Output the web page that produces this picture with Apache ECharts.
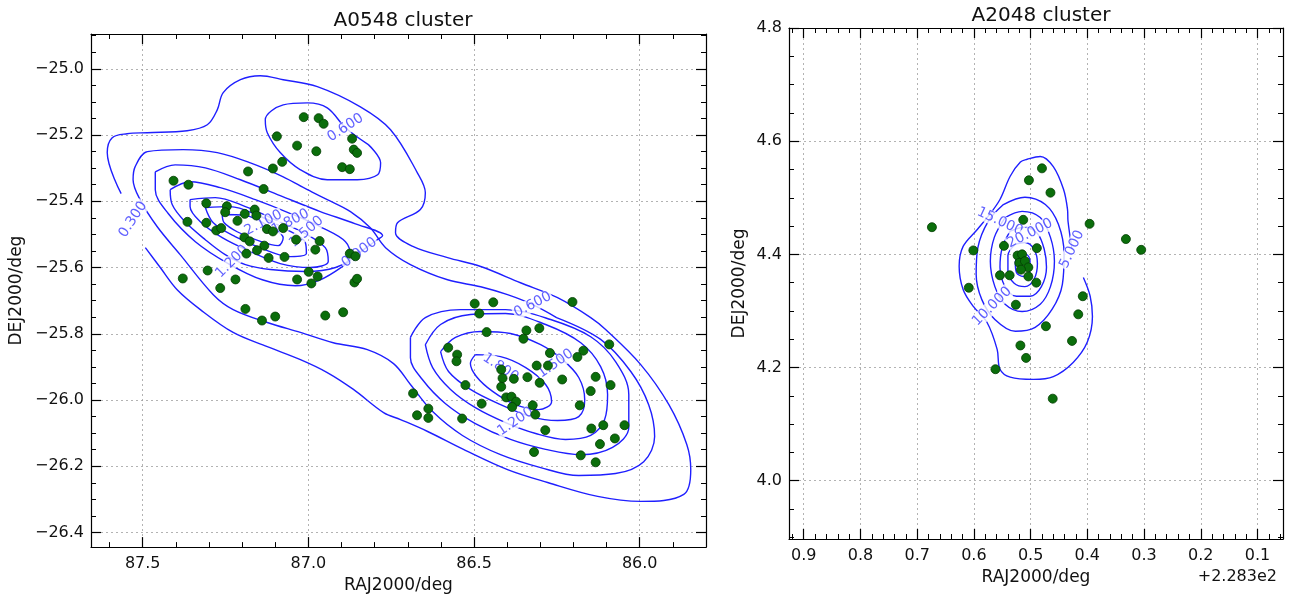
<!DOCTYPE html>
<html><head><meta charset="utf-8">
<script src="https://cdn.jsdelivr.net/npm/echarts@6/dist/echarts.min.js"></script>
<style>html,body{margin:0;background:#fff}#c{width:1293px;height:599px}</style>
</head><body><div id="c"></div>
<script>
// ---------- A0548 galaxies (RA, Dec in deg) ----------
const a0548Ra = [87.014,86.969,86.954,87.095,87.034,86.976,86.868,86.863,86.853,86.898,86.875,87.079,87.107,87.182,87.135,87.407,87.362,87.308,87.246,87.251,87.162,87.157,87.192,87.214,87.365,87.308,87.278,87.263,87.125,87.107,87.076,87.193,87.177,87.037,86.966,86.979,87.133,87.155,87.187,87.120,87.072,86.875,86.858,87.304,87.379,87.220,87.266,86.999,86.972,87.034,86.991,86.861,86.853,87.190,87.140,87.100,86.949,86.895,
86.498,86.442,86.484,86.203,86.462,86.342,86.303,86.351,86.092,86.578,86.551,86.553,86.271,86.170,86.188,86.311,86.277,86.418,86.414,86.380,86.339,86.302,86.234,86.133,86.088,86.148,86.526,86.418,86.403,86.387,86.373,86.385,86.323,86.315,86.477,86.181,86.684,86.638,86.672,86.638,86.536,86.285,86.146,86.110,86.046,86.075,86.120,86.319,86.178,86.133];
const a0548Dec = [-25.146,-25.149,-25.166,-25.204,-25.232,-25.249,-25.211,-25.244,-25.254,-25.297,-25.303,-25.281,-25.301,-25.310,-25.363,-25.338,-25.350,-25.406,-25.415,-25.433,-25.425,-25.443,-25.438,-25.459,-25.462,-25.465,-25.488,-25.481,-25.484,-25.491,-25.481,-25.509,-25.521,-25.516,-25.520,-25.546,-25.534,-25.548,-25.558,-25.571,-25.568,-25.558,-25.566,-25.609,-25.633,-25.636,-25.662,-25.613,-25.627,-25.636,-25.648,-25.645,-25.634,-25.725,-25.760,-25.748,-25.745,-25.735,
-25.709,-25.705,-25.739,-25.704,-25.795,-25.790,-25.783,-25.815,-25.832,-25.842,-25.863,-25.883,-25.858,-25.851,-25.870,-25.896,-25.896,-25.908,-25.934,-25.936,-25.931,-25.948,-25.938,-25.930,-25.955,-25.973,-25.955,-25.960,-25.992,-25.990,-26.005,-26.021,-26.016,-26.044,-26.011,-26.016,-25.980,-26.026,-26.046,-26.054,-26.056,-26.091,-26.086,-26.076,-26.076,-26.116,-26.133,-26.157,-26.167,-26.188];

// A0548 density contours
const a0548Level030 = [[87.492,-25.540],[87.447,-25.600],[87.396,-25.667],[87.326,-25.727],[87.227,-25.796],[87.124,-25.839],[87.024,-25.878],[86.943,-25.917],[86.864,-25.968],[86.773,-26.038],[86.722,-26.059],[86.640,-26.095],[86.532,-26.149],[86.399,-26.210],[86.278,-26.249],[86.127,-26.291],[85.997,-26.306],[85.867,-26.285],[85.846,-26.210],[85.858,-26.134],[85.912,-26.014],[85.997,-25.893],[86.103,-25.787],[86.148,-25.751],[86.248,-25.691],[86.360,-25.646],[86.480,-25.597],[86.580,-25.570],[86.683,-25.537],[86.737,-25.495],[86.731,-25.465],[86.662,-25.425],[86.647,-25.374],[86.671,-25.314],[86.752,-25.184],[86.843,-25.115],[86.973,-25.054],[87.076,-25.033],[87.145,-25.021],[87.205,-25.033],[87.257,-25.072],[87.275,-25.124],[87.305,-25.169],[87.366,-25.187],[87.486,-25.193],[87.547,-25.196],[87.592,-25.208],[87.607,-25.253],[87.565,-25.377]];
const a0548Level060North = [[86.819,-25.229],[86.782,-25.284],[86.791,-25.320],[86.852,-25.335],[86.943,-25.335],[87.024,-25.305],[87.085,-25.253],[87.124,-25.193],[87.130,-25.154],[87.076,-25.109],[87.003,-25.103],[86.943,-25.118],[86.888,-25.178]];
const a0548Level060 = [[86.251,-25.751],[86.118,-25.817],[86.027,-25.914],[85.973,-26.014],[85.955,-26.110],[85.988,-26.186],[86.073,-26.222],[86.184,-26.228],[86.299,-26.204],[86.420,-26.165],[86.535,-26.107],[86.625,-26.035],[86.692,-25.953],[86.743,-25.890],[86.822,-25.848],[86.925,-25.827],[87.024,-25.796],[87.124,-25.766],[87.227,-25.727],[87.287,-25.682],[87.387,-25.561],[87.456,-25.477],[87.508,-25.395],[87.529,-25.335],[87.523,-25.296],[87.486,-25.250],[87.378,-25.244],[87.275,-25.253],[87.175,-25.284],[87.076,-25.326],[87.003,-25.365],[86.943,-25.395],[86.873,-25.431],[86.813,-25.480],[86.767,-25.540],[86.692,-25.591],[86.580,-25.637],[86.480,-25.658],[86.399,-25.682],[86.323,-25.712]];
const a0548Level090Main = [[87.462,-25.311],[87.402,-25.290],[87.311,-25.299],[87.205,-25.335],[87.085,-25.383],[86.964,-25.431],[86.858,-25.468],[86.776,-25.504],[86.792,-25.516],[86.846,-25.555],[86.897,-25.597],[86.964,-25.637],[87.039,-25.655],[87.139,-25.637],[87.242,-25.588],[87.341,-25.522],[87.423,-25.437],[87.462,-25.365]];
const a0548Level120Main = [[87.417,-25.365],[87.357,-25.341],[87.266,-25.359],[87.160,-25.395],[87.054,-25.437],[86.958,-25.480],[86.888,-25.522],[86.873,-25.567],[86.918,-25.600],[87.009,-25.612],[87.115,-25.606],[87.190,-25.591],[87.251,-25.561],[87.311,-25.516],[87.372,-25.462],[87.411,-25.410]];
const a0548Level150Main = [[87.357,-25.395],[87.281,-25.389],[87.190,-25.416],[87.100,-25.456],[87.009,-25.498],[86.949,-25.540],[86.940,-25.582],[86.994,-25.600],[87.085,-25.588],[87.175,-25.552],[87.260,-25.510],[87.326,-25.462],[87.357,-25.416]];
const a0548Level180Main = [[87.311,-25.419],[87.236,-25.416],[87.151,-25.443],[87.070,-25.483],[87.009,-25.525],[87.006,-25.558],[87.054,-25.567],[87.139,-25.543],[87.221,-25.507],[87.287,-25.465]];
const a0548Level210Main = [[87.260,-25.440],[87.190,-25.443],[87.121,-25.474],[87.076,-25.510],[87.091,-25.534],[87.151,-25.519],[87.215,-25.492],[87.254,-25.465]];
const a0548Level090South = [[86.692,-25.811],[86.647,-25.751],[86.541,-25.727],[86.405,-25.727],[86.269,-25.757],[86.148,-25.809],[86.073,-25.884],[86.033,-25.983],[86.033,-26.083],[86.082,-26.143],[86.178,-26.165],[86.284,-26.149],[86.390,-26.119],[86.496,-26.071],[86.586,-26.011],[86.656,-25.938],[86.692,-25.872]];
const a0548Level120South = [[86.647,-25.833],[86.601,-25.772],[86.511,-25.742],[86.405,-25.739],[86.284,-25.772],[86.178,-25.827],[86.118,-25.899],[86.097,-25.983],[86.106,-26.059],[86.148,-26.107],[86.224,-26.119],[86.314,-26.101],[86.405,-26.068],[86.496,-26.023],[86.571,-25.968],[86.625,-25.902]];
const a0548Level150South = [[86.601,-25.854],[86.556,-25.811],[86.480,-25.793],[86.390,-25.799],[86.299,-25.833],[86.233,-25.878],[86.184,-25.932],[86.166,-25.999],[86.184,-26.050],[86.248,-26.062],[86.329,-26.050],[86.420,-26.014],[86.511,-25.968],[86.577,-25.914]];
const a0548Level180South = [[86.496,-25.863],[86.420,-25.869],[86.344,-25.902],[86.284,-25.953],[86.266,-26.005],[86.305,-26.029],[86.375,-26.014],[86.444,-25.974],[86.493,-25.929],[86.511,-25.890]];

const a0548LabelPos = [[87.529,-25.455],[86.888,-25.178],[86.323,-25.712],[86.846,-25.555],[87.230,-25.582],[87.136,-25.465],[87.054,-25.462],[87.006,-25.492],[86.420,-25.902],[86.254,-25.890],[86.375,-26.065]];
const a0548LabelText = ['0.300','0.600','0.600','0.900','1.200','2.100','1.800','1.500','1.800','1.500','1.200'];

// ---------- A2048 galaxies ----------
const a2048Ra = [228.780,228.803,228.765,228.974,228.696,228.632,228.605,228.813,228.901,228.847,228.789,228.823,228.815,228.820,228.810,228.804,228.817,228.804,228.790,228.854,228.837,228.909,228.826,228.708,228.716,228.773,228.727,228.818,228.808,228.862,228.761];
const a2048Dec = [4.552,4.531,4.509,4.448,4.454,4.427,4.408,4.461,4.407,4.415,4.411,4.398,4.400,4.385,4.388,4.377,4.373,4.361,4.350,4.363,4.363,4.341,4.311,4.326,4.294,4.273,4.247,4.239,4.217,4.197,4.145];
const a2048Level05 = [[228.707,4.359],[228.695,4.326],[228.691,4.290],[228.700,4.245],[228.725,4.209],[228.760,4.184],[228.795,4.179],[228.836,4.183],[228.854,4.197],[228.859,4.232],[228.877,4.280],[228.901,4.308],[228.919,4.338],[228.926,4.379],[228.919,4.414],[228.894,4.444],[228.875,4.467],[228.854,4.497],[228.836,4.538],[228.818,4.563],[228.806,4.568],[228.783,4.573],[228.760,4.555],[228.742,4.515],[228.735,4.480],[228.734,4.458],[228.727,4.409]];
const a2048Level10 = [[228.848,4.488],[228.810,4.501],[228.774,4.488],[228.751,4.453],[228.741,4.400],[228.744,4.347],[228.762,4.303],[228.792,4.271],[228.827,4.264],[228.863,4.285],[228.886,4.320],[228.896,4.365],[228.893,4.412],[228.875,4.458]];
const a2048Level15 = [[228.845,4.465],[228.815,4.476],[228.783,4.465],[228.765,4.430],[228.758,4.388],[228.765,4.343],[228.783,4.312],[228.815,4.299],[228.845,4.312],[228.863,4.343],[228.871,4.388],[228.864,4.430]];
const a2048Level20 = [[228.836,4.441],[228.811,4.448],[228.788,4.437],[228.776,4.409],[228.772,4.377],[228.781,4.343],[228.801,4.326],[228.825,4.326],[228.845,4.343],[228.854,4.377],[228.850,4.412]];
const a2048Level25 = [[228.827,4.418],[228.810,4.421],[228.794,4.409],[228.788,4.384],[228.794,4.356],[228.810,4.343],[228.829,4.349],[228.840,4.370],[228.840,4.398]];
const a2048Level30 = [[228.820,4.398],[228.808,4.400],[228.801,4.388],[228.802,4.370],[228.813,4.361],[228.825,4.368],[228.827,4.386]];
const a2048LabelPos = [[228.727,4.409],[228.868,4.308],[228.854,4.458],[228.801,4.437]];
const a2048LabelText = ['5.000','10.000','15.000','20.000'];

// tick labels
const a0548XTicks = [86.0,86.5,87.0,87.5];
const a0548YTicks = [-26.4,-26.2,-26.0,-25.8,-25.6,-25.4,-25.2,-25.0];
const a2048XTicks = [228.4,228.5,228.6,228.7,228.8,228.9,229.0,229.1,229.2];
const a2048YTicks = [4.0,4.2,4.4,4.6,4.8];

// ---------- build ----------
function range(a,b,s){const r=[];for(let i=0;a+i*s<=b+1e-9;i++)r.push(+(a+i*s).toFixed(4));return r;}
const a0548XMinor = range(85.8,87.6,0.1);
const a0548YMinor = range(-26.4,-24.9,0.05);
const a2048XMinor = range(228.36,229.22,0.02);
const a2048YMinor = range(3.9,4.8,0.05);

const FONT = 'DejaVu Sans';
const labelRot0 = [57,33,27,37,45,27,27,41,-34,35,34];
const labelRot1 = [65,45,-25,27];
const blue = '#1f1fff';
const minus = v => (v<0?'\u2212':'') + Math.abs(v).toFixed(1);

function axisSet(grid, isX, min, max, inverse, major, minor, fmt, pos2, nameCfg){
  const base = {gridIndex:grid, type:'value', min, max, inverse, scale:true};
  const mainPos = isX ? 'bottom':'left';
  const main = Object.assign({}, base, {
    position: mainPos,
    axisLine:{show:true,onZero:false,lineStyle:{color:'#000',width:1.2}},
    axisTick:{show:true,inside:true,length:10,customValues:major,lineStyle:{color:'#000',width:1.2}},
    axisLabel:{show:true,customValues:major,formatter:fmt,color:'#111',fontFamily:FONT,fontSize:16,margin:isX?9:7},
    splitLine:{show:true,lineStyle:{color:'#a0a0a0',type:[2,3],width:0.8}}
  }, nameCfg);
  const opp = Object.assign({}, base, {
    position: pos2,
    axisLine:{show:true,onZero:false,lineStyle:{color:'#000',width:1.2}},
    axisTick:{show:true,inside:true,length:10,customValues:major,lineStyle:{color:'#000',width:1.2}},
    axisLabel:{show:false}, splitLine:{show:false}
  });
  const mk = p => Object.assign({}, base, {
    position:p, axisLine:{show:false,onZero:false},
    axisTick:{show:true,inside:true,length:5,customValues:minor,lineStyle:{color:'#000',width:1}},
    axisLabel:{show:false}, splitLine:{show:false}
  });
  return [main, opp, mk(mainPos), mk(pos2)];
}

const nameStyle = {fontFamily:FONT,fontSize:17,color:'#111'};
const xAxes = [].concat(
  axisSet(0,true,85.8,87.656,true,a0548XTicks,a0548XMinor,v=>v.toFixed(1),'top',
    {name:'RAJ2000/deg',nameLocation:'middle',nameGap:29,nameTextStyle:nameStyle}),
  axisSet(1,true,228.355,229.226,true,a2048XTicks,a2048XMinor,v=>(v-228.3).toFixed(1),'top',
    {name:'RAJ2000/deg',nameLocation:'middle',nameGap:30,nameTextStyle:nameStyle})
);
const yAxes = [].concat(
  axisSet(0,false,-26.444,-24.895,false,a0548YTicks,a0548YMinor,minus,'right',
    {name:'DEJ2000/deg',nameLocation:'middle',nameGap:66,nameTextStyle:nameStyle}),
  axisSet(1,false,3.897,4.8,false,a2048YTicks,a2048YMinor,v=>v.toFixed(1),'right',
    {name:'DEJ2000/deg',nameLocation:'middle',nameGap:41,nameTextStyle:nameStyle})
);

function lineSeries(data, xi, yi, closed){
  const d = closed ? data.concat([data[0]]) : data;
  return {type:'line', xAxisIndex:xi, yAxisIndex:yi, data:d, showSymbol:false, smooth:0.35,
    lineStyle:{color:blue,width:1.4}, silent:true, z:2, animation:false};
}
function labelSeries(pos, text, rot, xi, yi){
  return {type:'scatter', xAxisIndex:xi, yAxisIndex:yi, symbolSize:0, silent:true, z:3, animation:false,
    data: pos.map((p,i)=>({value:p, label:{show:true, formatter:text[i], rotate:rot[i], position:'inside',
      color:'#3a3aff', fontFamily:FONT, fontSize:14, backgroundColor:'#fff', padding:[0,1]}}))};
}
const dotStyle = {color:'#0b6e0b', borderColor:'#033d03', borderWidth:0.8, opacity:1};

const option = {
  animation:false,
  backgroundColor:'#fff',
  title:[
    {text:'A0548 cluster', left:398, top:6, textAlign:'center', textStyle:{fontFamily:FONT,fontSize:20,fontWeight:'normal',color:'#111'}},
    {text:'A2048 cluster', left:1036, top:1, textAlign:'center', textStyle:{fontFamily:FONT,fontSize:20,fontWeight:'normal',color:'#111'}},
    {text:'+2.283e2', right:11, top:564, textStyle:{fontFamily:FONT,fontSize:16,fontWeight:'normal',color:'#111'}}
  ],
  grid:[
    {left:91, top:34, width:615, height:514, show:false},
    {left:789, top:28, width:494, height:511, show:false}
  ],
  xAxis:xAxes, yAxis:yAxes,
  series:[
    lineSeries(a0548Level030,0,0,false),
    lineSeries(a0548Level060North,0,0,true),
    lineSeries(a0548Level060,0,0,true),
    lineSeries(a0548Level090Main,0,0,true),
    lineSeries(a0548Level120Main,0,0,true),
    lineSeries(a0548Level150Main,0,0,true),
    lineSeries(a0548Level180Main,0,0,true),
    lineSeries(a0548Level210Main,0,0,true),
    lineSeries(a0548Level090South,0,0,true),
    lineSeries(a0548Level120South,0,0,true),
    lineSeries(a0548Level150South,0,0,true),
    lineSeries(a0548Level180South,0,0,true),
    labelSeries(a0548LabelPos,a0548LabelText,labelRot0,0,0),
    {type:'scatter', xAxisIndex:0, yAxisIndex:0, symbolSize:9, itemStyle:dotStyle, z:4,
      data:a0548Ra.map((r,i)=>[r,a0548Dec[i]])},
    lineSeries(a2048Level05,4,4,false),
    lineSeries(a2048Level10,4,4,true),
    lineSeries(a2048Level15,4,4,true),
    lineSeries(a2048Level20,4,4,true),
    lineSeries(a2048Level25,4,4,true),
    lineSeries(a2048Level30,4,4,true),
    labelSeries(a2048LabelPos,a2048LabelText,labelRot1,4,4),
    {type:'scatter', xAxisIndex:4, yAxisIndex:4, symbolSize:9, itemStyle:dotStyle, z:4,
      data:a2048Ra.map((r,i)=>[r,a2048Dec[i]])}
  ]
};
const chart = echarts.init(document.getElementById('c'), null, {renderer:'canvas'});
chart.setOption(option);
</script></body></html>
